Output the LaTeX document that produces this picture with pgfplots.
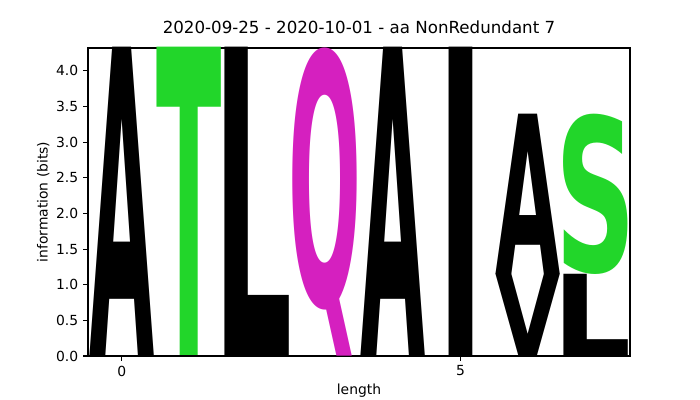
\documentclass[border=0pt]{standalone}
\usepackage{fontspec}
\setmainfont{DejaVu Sans}
\usepackage{graphicx}
\usepackage{xcolor}
\usepackage{pgfplots}
\pgfplotsset{compat=1.18}

\definecolor{lgreen}{RGB}{34,214,42}
\definecolor{lmagenta}{RGB}{213,32,191}
\definecolor{lblack}{RGB}{0,0,0}

% glyph with side bearings cut away, so that it fills its box
\newcommand\glyph[1]{\hbox{\kern-\XeTeXglyphbounds1 \XeTeXcharglyph`#1\relax#1\kern-\XeTeXglyphbounds3 \XeTeXcharglyph`#1\relax}}

\begin{document}
\begin{tikzpicture}
\path[use as bounding box] (-63.36pt,-31.68pt) rectangle (440.64pt,256.32pt);
\begin{axis}[
    scale only axis,
    width=390.24pt, height=221.76pt,
    xmin=-0.5, xmax=7.5,
    ymin=0, ymax=4.3219,
    xtick={0,5},
    ytick={0,0.5,...,4},
    yticklabel style={/pgf/number format/.cd, fixed, fixed zerofill, precision=1},
    /pgf/number format/assume math mode=true,
    tick align=outside,
    xtick pos=left, ytick pos=left,
    major tick length=3.5pt,
    tick style={black, line width=0.8pt},
    axis line style={line width=0.8pt},
    tick label style={font=\fontsize{10}{12}\selectfont},
    title={2020-09-25 - 2020-10-01 - aa NonRedundant 7},
    title style={font=\fontsize{12}{14}\selectfont, at={(axis description cs:0.5,1)}, anchor=base, yshift=4.5pt},
    xlabel={length},
    xlabel style={font=\fontsize{10}{12}\selectfont, at={(axis description cs:0.5,0)}, anchor=base, yshift=-28pt},
    ylabel={information (bits)},
    ylabel style={font=\fontsize{10}{12}\selectfont, at={(axis description cs:0,0.5)}, anchor=base, yshift=29pt},
]
\addplot[draw=none, mark=none,
    visualization depends on={51.31*\thisrow{h} \as \hh},
    visualization depends on={48.78*\thisrow{w} \as \ww},
    visualization depends on={value \thisrow{letter} \as \letter},
    visualization depends on={value \thisrow{col} \as \col},
    nodes near coords={\resizebox*{\ww pt}{\hh pt}{\color{\col}\bfseries\expandafter\glyph\expandafter{\letter}}},
    nodes near coords style={anchor=south, inner sep=0pt, outer sep=0pt},
] table {
x y h w letter col
0 0 4.3219 0.95 A lblack
1 0 4.3219 0.95 T lgreen
2 0 4.3219 0.95 L lblack
3 0 4.3219 0.95 Q lmagenta
4 0 4.3219 0.95 A lblack
5 0 4.3219 0.35 I lblack
6 0 1.14 0.95 V lblack
6 1.14 2.25 0.95 A lblack
7 0 1.14 0.95 L lblack
7 1.14 2.25 0.95 S lgreen
};
\end{axis}
\end{tikzpicture}
\end{document}
